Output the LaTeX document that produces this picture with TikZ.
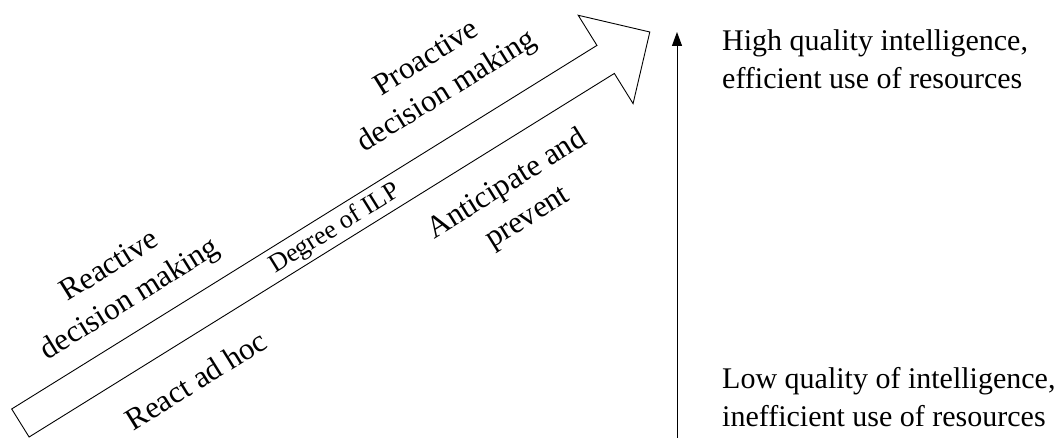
\documentclass[tikz,border=0pt]{standalone}
\usepackage{fontspec}
\setmainfont{Liberation Serif}
\usetikzlibrary{arrows.meta}
\begin{document}
\begin{tikzpicture}[x=1pt,y=1pt,
  outline/.style={draw=black,line width=0.9pt,line join=miter,fill=white},
  bigtext/.style={font=\fontsize{31}{39}\selectfont,align=center,inner sep=0pt,rotate=31.85},
  smalltext/.style={font=\fontsize{26}{30}\selectfont,inner sep=0pt,rotate=31.85},
  sidetext/.style={font=\fontsize{30}{38}\selectfont,align=left,inner sep=0pt,anchor=north west},
  axisline/.style={draw=black,line width=1pt,-{Triangle[length=14pt,width=10pt]}}]
\useasboundingbox (0,0) rectangle (1059,438);

% the broad "Degree of ILP" arrow, built along its own axis
\begin{scope}[shift={(20.4,15)},rotate=31.85]
  \draw[outline] (0,16.5) -- (689,16.5) -- (689,52) -- (741,0)
    -- (689,-52) -- (689,-16.5) -- (0,-16.5) -- cycle;
\end{scope}

% labels along the arrow
\node[bigtext] (reactive) at (120.5,154) {Reactive\\decision making};
\node[bigtext] (proactive) at (437.5,362) {Proactive\\decision making};
\node[bigtext] (anticipate) at (517.5,236.5) {Anticipate and\\prevent};
\node[bigtext] (adhoc) at (196,58) {React ad hoc};
\node[smalltext] (degree) at (335,209) {Degree of ILP};

% quality axis with its two end descriptions
\coordinate (axisbottom) at (677,0);
\coordinate (axistop) at (677,406);
\draw[axisline] (axisbottom) -- (axistop);
\node[sidetext] (high) at (722,409) {High quality intelligence,\\efficient use of resources};
\node[sidetext] (low) at (722,71) {Low quality of intelligence,\\inefficient use of resources};
\end{tikzpicture}
\end{document}
